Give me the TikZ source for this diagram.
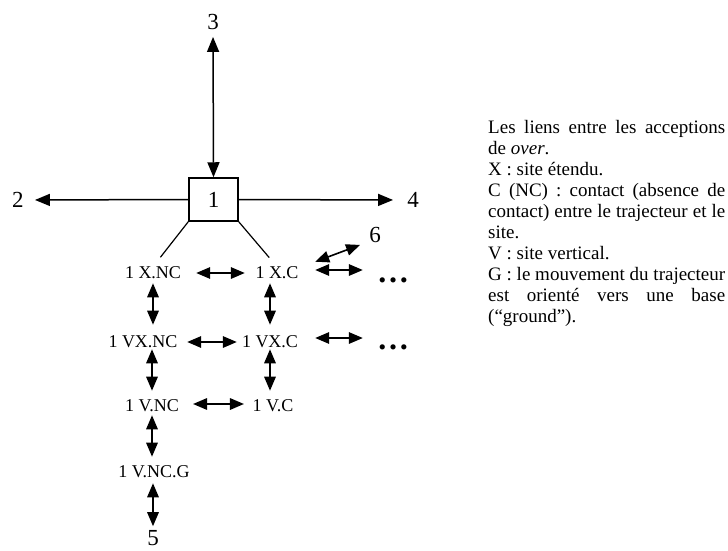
\documentclass[tikz,border=0pt]{standalone}
\usepackage{fontspec}
\setmainfont{Liberation Serif}
\usetikzlibrary{arrows.meta}

\tikzset{
  sens/.style={inner sep=0pt, font=\fontsize{18}{20}\selectfont},
  num/.style={inner sep=0pt, font=\fontsize{23}{26}\selectfont},
  points/.style={inner sep=0pt, font=\fontsize{32}{34}\selectfont\bfseries},
  fl/.style={line width=1.6pt, {Triangle[length=14pt,width=11.5pt]}-{Triangle[length=14pt,width=11.5pt]}},
  gd/.style={line width=1.5pt, {Triangle[length=15pt,width=12pt]}-{Triangle[length=15pt,width=12pt]}},
  grande/.style={line width=1.5pt, -{Triangle[length=15pt,width=12pt]}},
}

\begin{document}
\begin{tikzpicture}[x=1pt,y=-1pt]
\useasboundingbox (0,0) rectangle (728,550);
% le sens central et les sens voisins
\node[num, draw, line width=1.5pt, minimum width=49pt, minimum height=43pt] (un) at (213.5,199.5) {1};
\node[num] (trois) at (213,22) {3};
\node[num] (deux) at (18,200) {2};
\node[num] (quatre) at (413,200) {4};
\node[num] (six) at (375,235) {6};
\node[num] (cinq) at (153,538) {5};
\draw[gd, shorten >=7pt] (un.north) -- (trois.south);
\draw[grande, shorten >=11pt] (un.west) -- (deux.east);
\draw[grande, shorten >=14pt] (un.east) -- (quatre.west);
% les acceptions
\node[sens] (xnc) at (153,273) {1 X.NC};
\node[sens] (xc) at (277,273) {1 X.C};
\node[sens] (vxnc) at (143,342) {1 VX.NC};
\node[sens] (vxc) at (270,342) {1 VX.C};
\node[sens] (vnc) at (152,406) {1 V.NC};
\node[sens] (vc) at (273,406) {1 V.C};
\node[sens] (vncg) at (154,472) {1 V.NC.G};
\node[points] (pts1) at (393,280) {…};
\node[points] (pts2) at (393,347) {…};
\draw[line width=1.2pt, shorten >=12pt] (un.south west) -- (xnc.north);
\draw[line width=1.2pt, shorten >=12pt] (un.south east) -- (xc.north);
% liens horizontaux
\draw[fl] ([xshift=15pt]xnc.east) -- ([xshift=-10.5pt]xc.west);
\draw[fl, shorten <=16.5pt, shorten >=14pt] ([yshift=3pt]xc.east) -- ([yshift=10pt]pts1.west);
\draw[fl] ([xshift=16.5pt,yshift=5pt]xc.north east) -- ([xshift=-9pt,yshift=-2pt]six.south west);
\draw[fl] ([xshift=9.5pt]vxnc.east) -- ([xshift=-5pt]vxc.west);
\draw[fl, shorten <=17pt, shorten >=14pt] ([yshift=4pt]vxc.east) -- ([yshift=9pt]pts2.west);
\draw[fl] ([xshift=14pt,yshift=2pt]vnc.east) -- ([xshift=-8.5pt,yshift=2pt]vc.west);
% liens verticaux
\draw[fl, shorten <=4pt, shorten >=11pt] (xnc.south) -- (xnc.south |- vxnc.north);
\draw[fl, shorten <=4pt, shorten >=11pt] (vxc.north |- xc.south) -- (vxc.north);
\draw[fl, shorten <=1pt, shorten >=9pt] (vnc.north |- vxnc.south) -- (vnc.north);
\draw[fl, shorten <=1pt, shorten >=9pt] (vxc.south) -- (vxc.south |- vc.north);
\draw[fl, shorten <=3pt, shorten >=9pt] (vnc.south) -- (vnc.south |- vncg.north);
\draw[fl, shorten <=5pt, shorten >=4pt] (cinq.north |- vncg.south) -- (cinq.north);
% la legende
\node[anchor=north west, inner sep=0pt, text width=237pt, align=justify,
  font=\fontsize{19}{21}\selectfont] (legende) at (488,120)
  {\setlength{\parindent}{0pt}Les liens entre les acceptions\linebreak de \textit{over}.\par
   X : site étendu.\par
   C (NC) : contact (absence de\linebreak contact) entre le trajecteur et le\linebreak site.\par
   V : site vertical.\par
   G : le mouvement du trajecteur\linebreak est orienté vers une base\linebreak (“ground”).};
\end{tikzpicture}
\end{document}
